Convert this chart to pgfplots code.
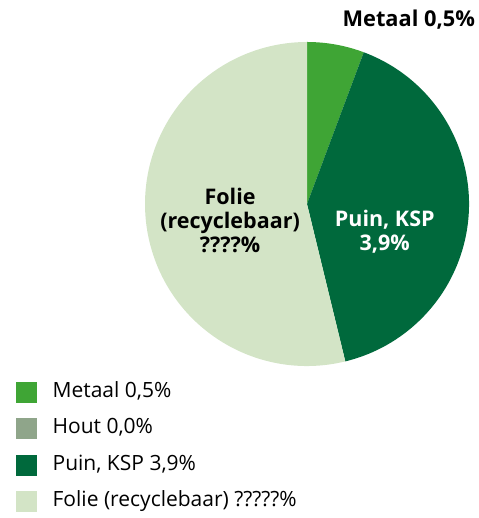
\documentclass[border=0pt]{standalone}
\usepackage{pgfplots}
\usepackage{pgfplotstable}
\pgfplotsset{compat=1.18}
\usepackage{fontspec}
\setmainfont{Open Sans}
\definecolor{cMetaal}{HTML}{3FA535}
\definecolor{cHout}{HTML}{8FA58A}
\definecolor{cPuin}{HTML}{00693C}
\definecolor{cFolie}{HTML}{D3E4C6}
\pgfplotstableread{
name value
Metaal 5.7
Hout 0.0
Puin 40.5
Folie 53.8
}\piedata
\begin{document}%
\begin{tikzpicture}[x=1pt,y=1pt]
\pgfplotstablegetelem{0}{value}\of\piedata \let\vA\pgfplotsretval
\pgfplotstablegetelem{1}{value}\of\piedata \let\vB\pgfplotsretval
\pgfplotstablegetelem{2}{value}\of\piedata \let\vC\pgfplotsretval
\pgfplotstablegetelem{3}{value}\of\piedata \let\vD\pgfplotsretval
\pgfmathsetmacro\aZ{90}
\pgfmathsetmacro\aA{\aZ-3.6*\vA}
\pgfmathsetmacro\aB{\aA-3.6*\vB}
\pgfmathsetmacro\aC{\aB-3.6*\vC}
\pgfmathsetmacro\aD{\aC-3.6*\vD}
\begin{axis}[
  at={(145pt,152pt)}, anchor=south west,
  scale only axis, width=324pt, height=324pt,
  xmin=-1, xmax=1, ymin=-1, ymax=1,
  hide axis, clip=false,
  legend style={draw=none, fill=none, inner sep=0pt,
    at={(rel axis cs:-0.398,-0.049)}, anchor=north west,
    font=\fontsize{21}{25}\selectfont,
    nodes={inner sep=0pt, text height=15pt, text depth=5pt},
    row sep=16pt, column sep=16pt},
  legend cell align=left,
  legend image code/.code={\fill[#1] (0pt,-10pt) rectangle (20pt,10pt);},
]
\fill[cMetaal] (axis cs:0,0) -- ({axis cs:{cos(\aZ)},{sin(\aZ)}}) arc[start angle=\aZ, end angle=\aA, radius=162pt] -- cycle;
\fill[cPuin] (axis cs:0,0) -- ({axis cs:{cos(\aB)},{sin(\aB)}}) arc[start angle=\aB, end angle=\aC, radius=162pt] -- cycle;
\fill[cFolie] (axis cs:0,0) -- ({axis cs:{cos(\aC)},{sin(\aC)}}) arc[start angle=\aC, end angle=\aD, radius=162pt] -- cycle;
\addlegendimage{cMetaal}\addlegendentry{Metaal 0,5\%}
\addlegendimage{cHout}\addlegendentry{Hout 0,0\%}
\addlegendimage{cPuin}\addlegendentry{Puin, KSP 3,9\%}
\addlegendimage{cFolie}\addlegendentry{Folie (recyclebaar) ?????\%}
\node[anchor=east, font=\fontsize{21.8}{25}\selectfont\bfseries, inner sep=0pt] at (rel axis cs:1.019,1.068) {Metaal 0,5\%};
\node[align=center, font=\fontsize{21.5}{24}\selectfont\bfseries, inner sep=0pt] at (axis cs:-0.475,-0.099) {Folie\\(recyclebaar)\\????\%};
\node[align=center, text=white, font=\fontsize{21.5}{24}\selectfont\bfseries, inner sep=0pt] at (axis cs:0.48,-0.173) {Puin, KSP\\3,9\%};
\end{axis}
\pgfresetboundingbox
\path[use as bounding box] (0,0) rectangle (478,518);
\end{tikzpicture}%
\end{document}
